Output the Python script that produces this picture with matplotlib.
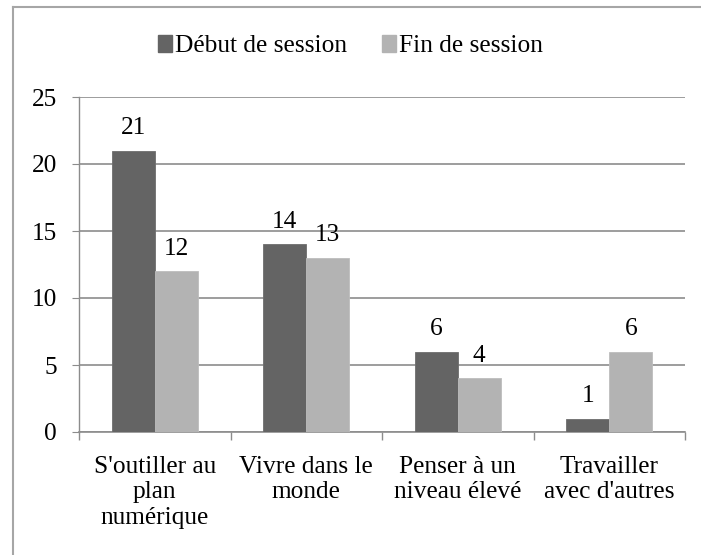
import matplotlib
matplotlib.use("Agg")
import matplotlib.pyplot as plt
import numpy as np
from matplotlib.lines import Line2D
from matplotlib.patches import Patch
from matplotlib import font_manager
from matplotlib.font_manager import FontProperties

categories = ["S'outiller au\nplan\nnumérique", "Vivre dans le\nmonde",
              "Penser à un\nniveau élevé", "Travailler\navec d'autres"]
series_names = ["Début de session", "Fin de session"]
debut = [21, 14, 6, 1]
fin = [12, 13, 4, 6]
yticks = [0, 5, 10, 15, 20, 25]

FS = 18.3
serif_path = font_manager.findfont(FontProperties(family='Liberation Serif'))
fp = FontProperties(fname=serif_path, size=FS)
plt.rcParams['font.family'] = 'serif'
plt.rcParams['font.serif'] = ['Liberation Serif', 'DejaVu Serif']

W, H = 701, 555
fig = plt.figure(figsize=(W/100, H/100), dpi=100)
ax = fig.add_axes([79/W, 1-432/H, (685-79)/W, (432-97)/H])

dark = '#646464'
light = '#b3b3b3'
x = np.arange(len(categories))
bw = 0.284
b1 = ax.bar(x - bw/2, debut, bw, color=dark, edgecolor='#6e6e6e', linewidth=0.6, zorder=3)
b2 = ax.bar(x + bw/2, fin, bw, color=light, edgecolor='#bdbdbd', linewidth=0.6, zorder=3)
for bars, vals in ((b1, debut), (b2, fin)):
    for r, v in zip(bars, vals):
        ax.text(r.get_x() + r.get_width()/2, v + 0.85, str(v), ha='center', va='bottom',
                fontproperties=fp, color='black')

ax.set_xlim(-0.5, len(categories) - 0.5)
ax.set_ylim(0, 25)
ax.set_yticks(yticks)
ax.set_yticklabels([str(t) for t in yticks], fontproperties=fp)
ax.yaxis.grid(True, color='#8c8c8c', linewidth=1.2, zorder=0)
ax.set_axisbelow(True)
for s in ['top', 'right']:
    ax.spines[s].set_visible(False)
ax.spines['left'].set_color('#8c8c8c')
ax.spines['bottom'].set_color('#8c8c8c')
ax.spines['left'].set_linewidth(1.0)
ax.spines['bottom'].set_linewidth(1.2)
ax.tick_params(axis='y', length=5, color='#8c8c8c', pad=11)
ax.set_xticks(x)
ax.set_xticklabels(categories, fontproperties=fp, linespacing=1.22)
ax.tick_params(axis='x', length=0, pad=17)
ax.set_xticks(np.arange(-0.5, len(categories)), minor=True)
ax.tick_params(axis='x', which='minor', length=6, color='#8c8c8c', width=1.0)

handles = [Patch(color=dark), Patch(color=light)]
fig.legend(handles, series_names, loc='center', bbox_to_anchor=(0.5, 1-46/H),
           ncol=2, frameon=False, prop=fp, handlelength=0.55, handleheight=0.65,
           handletextpad=0.1, columnspacing=1.4)

# outer chart border (top and left visible)
fig.add_artist(Line2D([13/W, 1], [1-7/H, 1-7/H], transform=fig.transFigure, color='#a6a6a6', linewidth=1.5))
fig.add_artist(Line2D([13/W, 13/W], [0, 1-7/H], transform=fig.transFigure, color='#a6a6a6', linewidth=1.5))

fig.savefig('out.png', dpi=100)
